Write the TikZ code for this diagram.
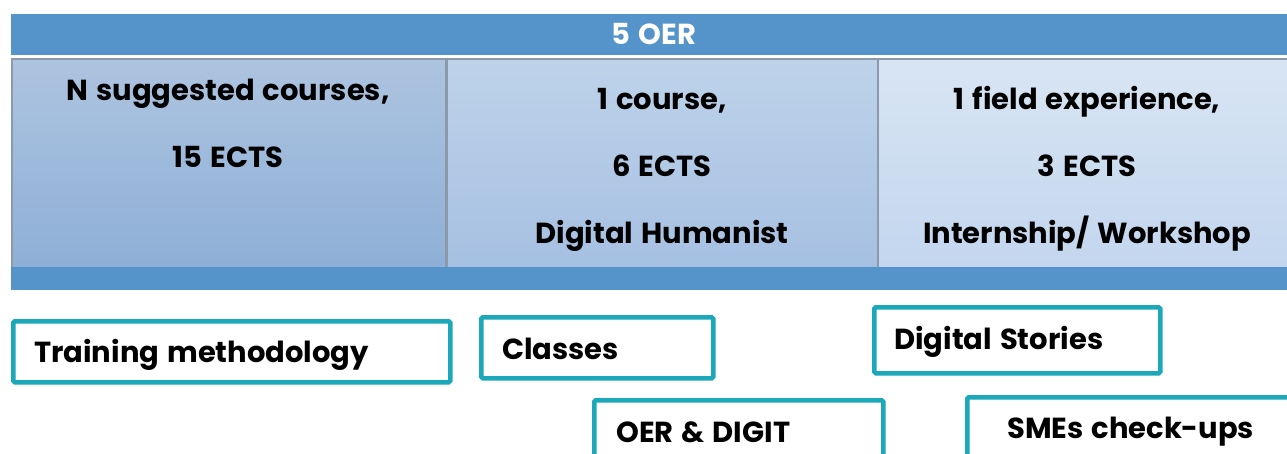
\documentclass[tikz,border=0pt]{standalone}
\usepackage{fontspec}
\setmainfont{Poppins}[WordSpace=1.3]
\definecolor{barblue}{HTML}{5594CB}
\definecolor{cellgray}{HTML}{8C99A8}
\definecolor{teal2}{HTML}{1BA9BA}
\definecolor{c1top}{HTML}{ADC4E0}
\definecolor{c1bot}{HTML}{8EAFD6}
\definecolor{c2top}{HTML}{BED3EA}
\definecolor{c2bot}{HTML}{A6C0E2}
\definecolor{c3top}{HTML}{D8E5F3}
\definecolor{c3bot}{HTML}{C3D6EE}
\begin{document}
\begin{tikzpicture}[x=1pt,y=-1pt,
  bar/.style={fill=barblue,draw=none},
  cell/.style={draw=cellgray,line width=1.5pt},
  txt/.style={font=\bfseries\fontsize{29}{29}\selectfont,inner sep=0pt,anchor=base},
  tag/.style={draw=teal2,line width=4.5pt,rounded corners=1.5pt,anchor=north west,inner sep=0pt},
  tagtxt/.style={font=\bfseries\fontsize{29}{29}\selectfont,inner sep=0pt,anchor=base west}]
\useasboundingbox[fill=white] (0,0) rectangle (1287,453);
% header and footer bars
\node[bar,minimum width=1276pt,minimum height=41pt,anchor=north west] (head) at (11,14) {};
\node[font=\bfseries\fontsize{29}{29}\selectfont,text=white,inner sep=0pt,anchor=base] (oer) at (654,44) {5 OER};
% three cells with vertical gradients
\node[cell,top color=c1top,bottom color=c1bot,minimum width=434pt,minimum height=210pt,anchor=north west] (c1) at (11,58) {};
\node[cell,top color=c2top,bottom color=c2bot,minimum width=431pt,minimum height=210pt,anchor=north west] (c2) at (446,58) {};
\node[cell,top color=c3top,bottom color=c3bot,minimum width=415pt,minimum height=210pt,anchor=north west] (c3) at (877,58) {};
\node[bar,minimum width=1276pt,minimum height=23pt,anchor=north west] (foot) at (11,267) {};
% cell texts
\node[txt] (a1) at (228,100) {N suggested courses,};
\node[txt] (a2) at (228,167) {15 ECTS};
\node[txt] (b1) at (662,109) {1 course,};
\node[txt] (b2) at (662,176) {6 ECTS};
\node[txt] (b3) at (662,243) {Digital Humanist};
\node[txt] (d1) at (1087,109) {1 field experience,};
\node[txt] (d2) at (1087,176) {3 ECTS};
\node[txt] (d3) at (1087,243) {Internship/ Workshop};
% outlined tags
\begin{scope}
\clip (0,0) rectangle (1287,453);
\node[tag,minimum width=437pt,minimum height=61pt] (t1) at (11,319) {};
\node[tag,minimum width=232pt,minimum height=61pt] (t2) at (479,315) {};
\node[tag,minimum width=286pt,minimum height=66pt] (t3) at (872,305) {};
\node[tag,minimum width=289pt,minimum height=80pt] (t4) at (592,398) {};
\node[tag,minimum width=340pt,minimum height=80pt] (t5) at (965,395) {};
\end{scope}
\node[tagtxt] (l1) at (34,362) {Training methodology};
\node[tagtxt] (l2) at (502,359) {Classes};
\node[tagtxt] (l3) at (894,349) {Digital Stories};
\node[tagtxt] (l4) at (616,442) {OER \& DIGIT};
\node[tagtxt] (l5) at (1007,438) {SMEs check-ups};
\end{tikzpicture}
\end{document}
